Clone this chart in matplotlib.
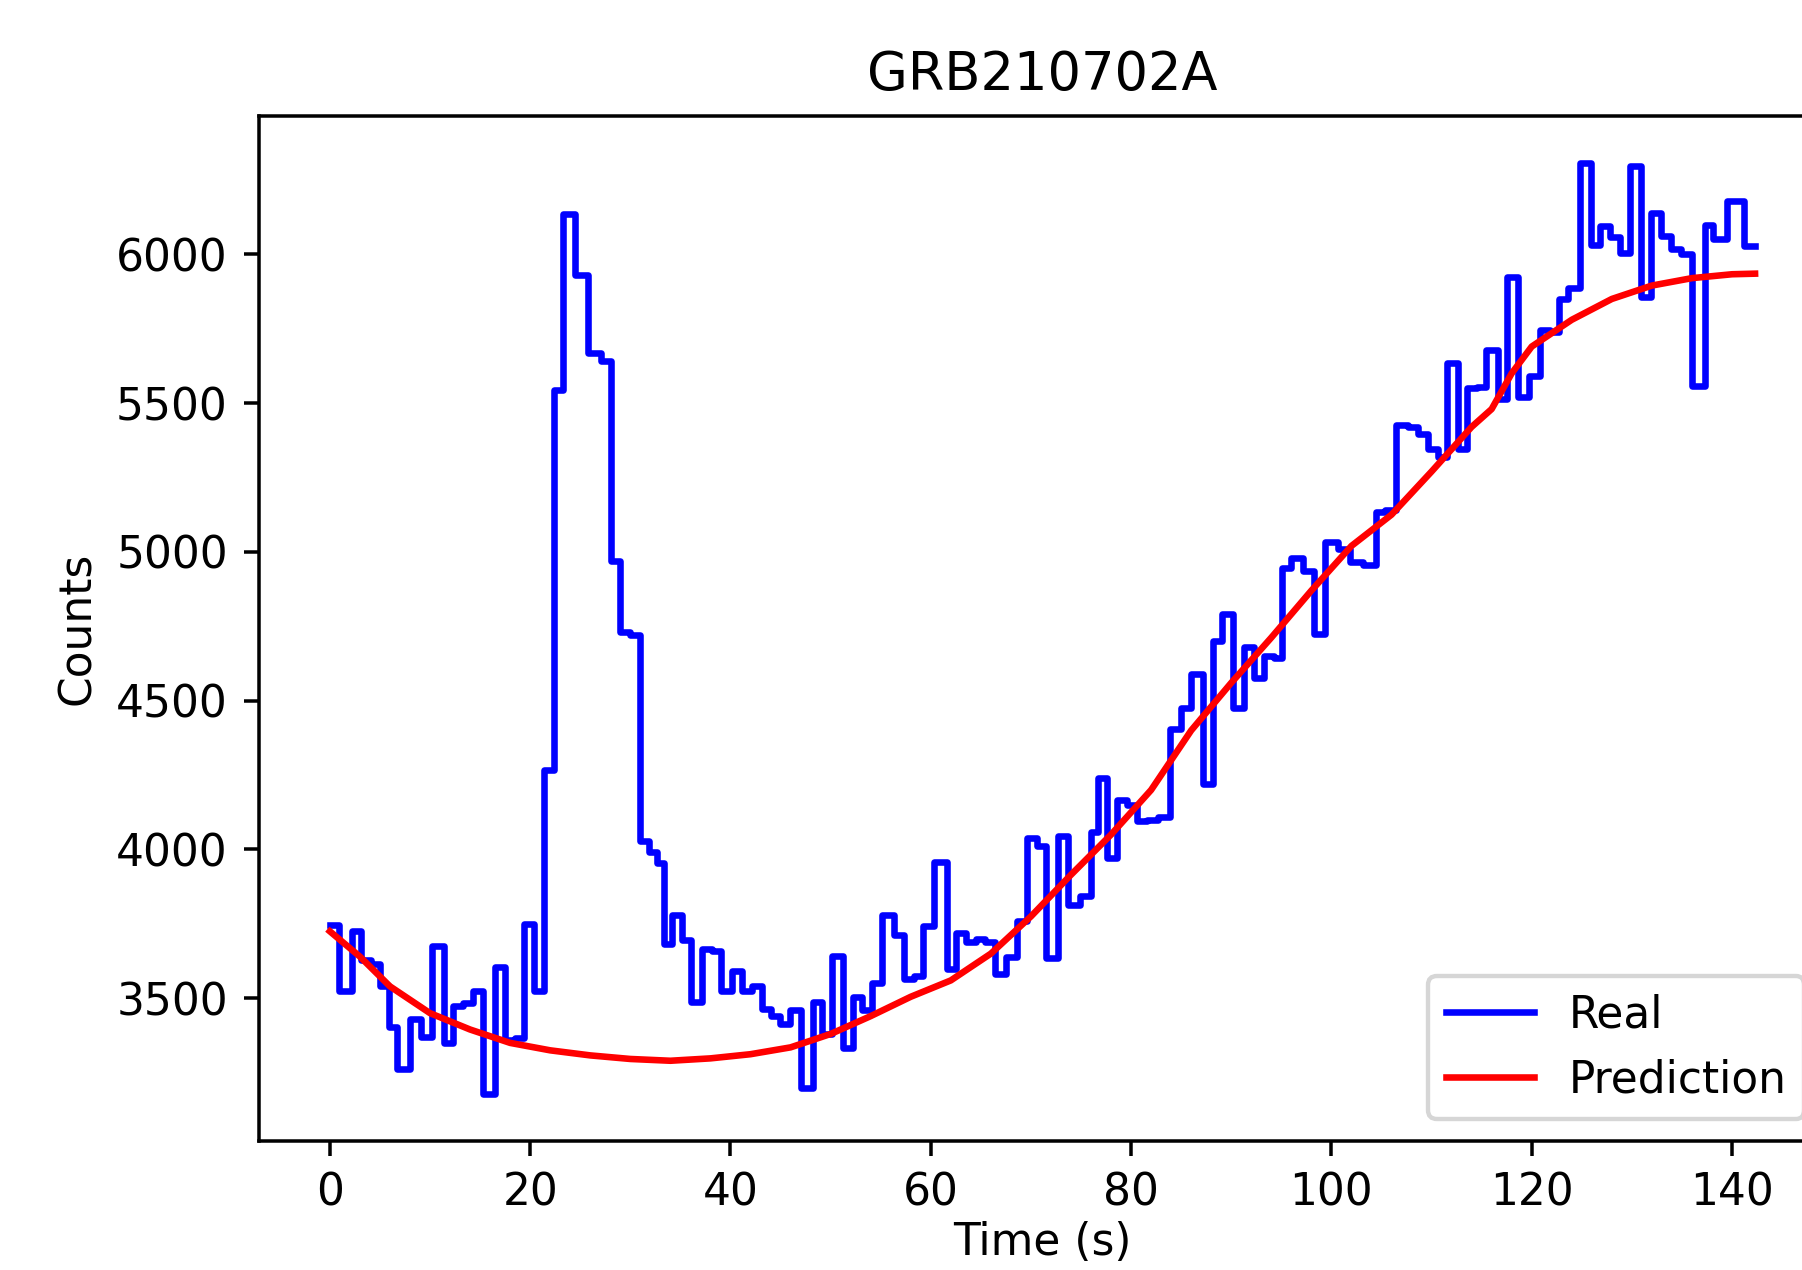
import matplotlib
matplotlib.use('Agg')
import matplotlib.pyplot as plt

title = 'GRB210702A'
x_label = 'Time (s)'
y_label = 'Counts'

# observed light curve: start time of each bin (s) and counts in that bin
bin_start = [0.0, 0.9, 2.2, 3.1, 4.1, 5.0, 5.9, 6.7, 8.0, 9.1,
             10.2, 11.4, 12.3, 13.3, 14.3, 15.3, 16.5, 17.5, 18.5, 19.4,
             20.4, 21.4, 22.4, 23.3, 24.5, 25.8, 27.1, 28.1, 29.0, 30.0,
             31.0, 31.9, 32.7, 33.4, 34.2, 35.2, 36.1, 37.2, 38.2, 39.1,
             40.2, 41.2, 42.1, 43.1, 44.0, 44.9, 45.9, 47.0, 48.2, 49.1,
             50.1, 51.2, 52.2, 53.1, 54.1, 55.1, 56.3, 57.3, 58.3, 59.2,
             60.3, 61.6, 62.5, 63.5, 64.5, 65.4, 66.4, 67.5, 68.6, 69.6,
             70.6, 71.5, 72.7, 73.7, 74.9, 76.0, 76.7, 77.6, 78.6, 79.6,
             80.6, 81.6, 82.7, 83.9, 85.0, 86.0, 87.2, 88.2, 89.1, 90.2,
             91.3, 92.3, 93.3, 94.3, 95.1, 96.0, 97.2, 98.3, 99.4, 100.7,
             101.9, 103.2, 104.5, 105.4, 106.4, 107.6, 108.6, 109.6, 110.6, 111.5,
             112.6, 113.5, 114.5, 115.4, 116.6, 117.5, 118.6, 119.7, 120.8, 121.8,
             122.7, 123.6, 124.8, 125.9, 126.8, 127.8, 128.8, 129.8, 130.9, 131.9,
             132.9, 133.9, 134.9, 136.0, 137.3, 138.1, 139.5, 141.2]
counts = [3745, 3525, 3727, 3630, 3614, 3540, 3402, 3262, 3430, 3370,
          3677, 3351, 3475, 3485, 3525, 3177, 3604, 3360, 3365, 3750,
          3525, 4266, 5543, 6135, 5931, 5669, 5640, 4970, 4730, 4720,
          4030, 3990, 3955, 3682, 3780, 3697, 3486, 3666, 3660, 3525,
          3590, 3525, 3540, 3465, 3440, 3413, 3460, 3200, 3486, 3379,
          3643, 3334, 3505, 3460, 3550, 3780, 3713, 3565, 3575, 3744,
          3957, 3598, 3720, 3690, 3700, 3690, 3580, 3640, 3760, 4040,
          4010, 3635, 4044, 3815, 3845, 4060, 4240, 3972, 4165, 4150,
          4095, 4100, 4110, 4404, 4476, 4591, 4220, 4699, 4790, 4475,
          4680, 4575, 4650, 4645, 4945, 4978, 4935, 4725, 5033, 5010,
          4965, 4955, 5135, 5140, 5425, 5420, 5395, 5345, 5320, 5635,
          5345, 5550, 5555, 5680, 5515, 5923, 5520, 5590, 5745, 5740,
          5850, 5888, 6308, 6030, 6095, 6058, 6005, 6296, 5857, 6139,
          6060, 6019, 6000, 5558, 6100, 6050, 6180, 6028]
t_stop = 142.3

# model prediction
pred_time = [0, 3, 6, 10, 14, 18, 22, 26, 30, 34, 38, 42, 46, 50, 54,
             58, 62, 66, 70, 74, 78, 82, 86, 90, 94, 98, 102, 106, 110,
             114, 116, 118, 120, 124, 128, 132, 136, 140, 142.3]
pred_counts = [3725, 3640, 3540, 3450, 3395, 3350, 3325, 3308, 3296, 3290,
               3298, 3312, 3335, 3380, 3440, 3505, 3560, 3650, 3775, 3915,
               4050, 4200, 4400, 4560, 4712, 4870, 5020, 5125, 5270,
               5420, 5480, 5600, 5690, 5780, 5850, 5895, 5920, 5933, 5935]

fig = plt.figure(figsize=(1802 / 316, 1270 / 316), dpi=316)
# axes runs past the right edge, as in the cropped original
ax = fig.add_axes([0.1435, 0.1016, 0.870, 0.807])

ax.step(bin_start + [t_stop], counts + [counts[-1]], where='post',
        color='blue', label='Real')
ax.plot(pred_time, pred_counts, color='red', label='Prediction')

ax.set_title(title)
# small labelpad so the x label stays inside the bottom edge
ax.set_xlabel(x_label, labelpad=1.5)
ax.set_ylabel(y_label)
ax.legend(loc='lower right')

fig.savefig('out.png', dpi=316)
